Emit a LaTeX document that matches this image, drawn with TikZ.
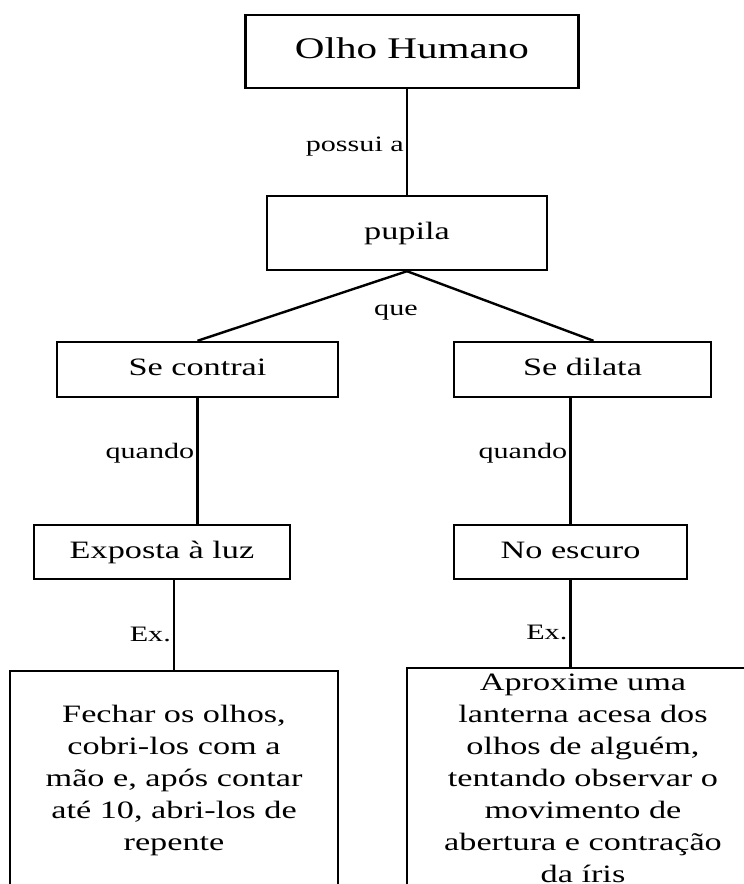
\documentclass[tikz,border=0pt]{standalone}
\usepackage{fontspec}
\usepackage{graphicx}
\setmainfont{Liberation Serif}
% texto alargado como no original
\newcommand{\tx}[1]{\scalebox{1.37}[1]{\begin{tabular}{@{}c@{}}#1\end{tabular}}}
\begin{document}
\begin{tikzpicture}[x=1pt,y=-1pt,
  box/.style={draw=black,line width=2.4pt,inner sep=0pt,font=\fontsize{25}{32}\selectfont},
  lnk/.style={line width=2.4pt},
  lbl/.style={inner sep=2pt,font=\fontsize{22}{26}\selectfont}]
  \useasboundingbox (0,0) rectangle (744,884);

  % Caixas
  \node[box,minimum width=333pt,minimum height=73pt,font=\fontsize{30}{36}\selectfont] (olho) at (412,51.5) {\tx{Olho Humano}};
  \node[box,minimum width=280pt,minimum height=74pt] (pupila) at (407,233) {\tx{pupila}};
  \node[box,minimum width=281pt,minimum height=55pt] (secontrai) at (197.5,369.5) {\tx{Se contrai}};
  \node[box,minimum width=257pt,minimum height=55pt] (sedilata) at (582.5,369.5) {\tx{Se dilata}};
  \node[box,minimum width=256pt,minimum height=54pt] (exposta) at (162,552) {\tx{Exposta à luz}};
  \node[box,minimum width=233pt,minimum height=54pt] (noescuro) at (570.5,552) {\tx{No escuro}};
  \node[box,minimum width=328pt,minimum height=218pt] (fechar) at (174,780)
    {\tx{Fechar os olhos,\\cobri-los com a\\mão e, após contar\\até 10, abri-los de\\repente}};
  \node[box,minimum width=352pt,minimum height=218pt] (aproxime) at (583,780)
    {\tx{Aproxime uma\\lanterna acesa dos\\olhos de alguém,\\tentando observar o\\movimento de\\abertura e contração\\da íris}};

  % Ligações
  \draw[lnk] (pupila.north |- olho.south) -- (pupila.north) node[lbl,pos=.54,left] {\tx{possui a}};
  \draw[lnk] (pupila.south) -- (secontrai.north);
  \draw[lnk] (pupila.south) -- ([xshift=11pt]sedilata.north);
  \node[lbl] (que) at (396,310) {\tx{que}};
  \draw[lnk] (secontrai.south) -- (secontrai.south |- exposta.north) node[lbl,pos=.44,left] {\tx{quando}};
  \draw[lnk] (noescuro.north |- sedilata.south) -- (noescuro.north) node[lbl,pos=.44,left] {\tx{quando}};
  \draw[lnk] (fechar.north |- exposta.south) -- (fechar.north) node[lbl,pos=.63,left] {\tx{Ex.}};
  \draw[lnk] (noescuro.south) -- (noescuro.south |- aproxime.north) node[lbl,pos=.63,left] {\tx{Ex.}};
\end{tikzpicture}
\end{document}
